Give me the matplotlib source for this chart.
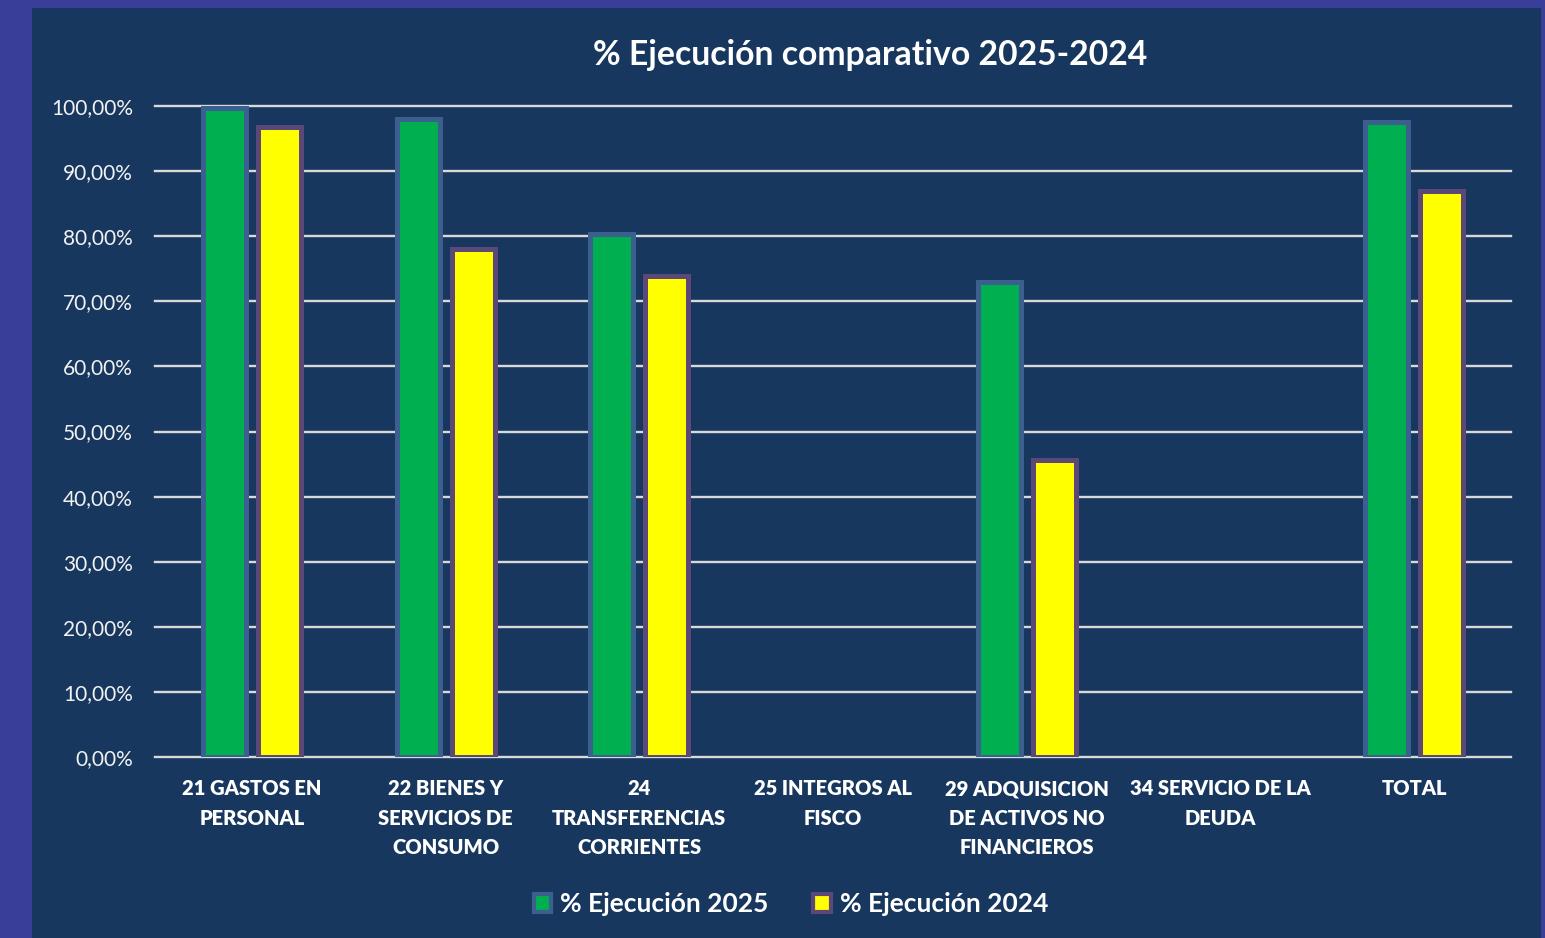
import matplotlib
matplotlib.use('Agg')
import matplotlib.pyplot as plt
import matplotlib.patches as patches
from matplotlib.ticker import FuncFormatter
import numpy as np

plt.rcParams['font.family'] = ['Lato', 'DejaVu Sans']

# ==================== 数据 ====================
categories = ['21 GASTOS EN\nPERSONAL', '22 BIENES Y\nSERVICIOS DE\nCONSUMO',
              '24\nTRANSFERENCIAS\nCORRIENTES', '25 INTEGROS AL\nFISCO',
              '29 ADQUISICION\nDE ACTIVOS NO\nFINANCIEROS', '34 SERVICIO DE LA\nDEUDA',
              'TOTAL']
ejec_2025 = [99.7, 98.0, 80.4, 0.0, 73.0, 0.0, 97.5]
ejec_2024 = [96.8, 78.1, 73.9, 0.0, 45.6, 0.0, 87.0]
series_names = ['% Ejecución 2025', '% Ejecución 2024']
title = '% Ejecución comparativo 2025-2024'

# ==================== 样式 ====================
outer_bg = '#393E99'
inner_bg = '#17375E'
green, green_edge = '#00B050', '#3B5F8E'
yellow, yellow_edge = '#FFFF00', '#5B4878'
grid_col = '#D9D9D9'
text_col = '#F2F2F2'

W, H = 1545, 938
fig = plt.figure(figsize=(W / 100, H / 100), dpi=100, facecolor=outer_bg)
fig.patches.append(patches.Rectangle((32 / W, 0), (1541 - 32) / W, 1 - 8 / H,
                                     transform=fig.transFigure, facecolor=inner_bg,
                                     edgecolor='none', zorder=-10))

ax = fig.add_axes([155 / W, 1 - 757 / H, (1511 - 155) / W, (757 - 106) / H])
ax.set_facecolor('none')

x = np.arange(len(categories))
bw = 0.222
off = 0.142
b1 = ax.bar(x - off, ejec_2025, bw, color=green, edgecolor=green_edge, linewidth=3.6,
            zorder=3, label=series_names[0])
b2 = ax.bar(x + off, ejec_2024, bw, color=yellow, edgecolor=yellow_edge, linewidth=3.6,
            zorder=3, label=series_names[1])
for bars, vals in ((b1, ejec_2025), (b2, ejec_2024)):
    for r, v in zip(bars, vals):
        if v == 0:
            r.set_visible(False)

ax.set_xlim(-0.5, len(categories) - 0.5)
ax.set_ylim(0, 100)
ax.set_yticks(np.arange(0, 101, 10))
ax.yaxis.set_major_formatter(FuncFormatter(lambda v, p: f'{v:.2f}'.replace('.', ',') + '%'))
ax.grid(axis='y', color=grid_col, linewidth=1.7, zorder=1)
for gl in ax.get_ygridlines():
    gl.set_clip_on(False)
ax.set_axisbelow(True)
for s in ax.spines.values():
    s.set_visible(False)

ax.set_xticks(x)
ax.set_xticklabels(categories, fontsize=14.5, fontweight='heavy', color='white',
                   linespacing=1.65)
ax.tick_params(axis='x', length=0, pad=16)
ax.tick_params(axis='y', length=0, pad=16, labelsize=15, labelcolor=text_col)

fig.text(870 / W, 1 - 55 / H, title, ha='center', va='center', fontsize=24.3,
         fontweight='bold', color='white')

handles = [patches.Patch(facecolor=green, edgecolor=green_edge, linewidth=3),
           patches.Patch(facecolor=yellow, edgecolor=yellow_edge, linewidth=3)]
leg = fig.legend(handles, series_names, loc='center', bbox_to_anchor=(791 / W, 1 - 904 / H),
                 ncol=2, frameon=False, handlelength=0.65, handleheight=0.65,
                 handletextpad=0.35, columnspacing=1.7,
                 prop={'family': ['Lato', 'DejaVu Sans'], 'size': 19, 'weight': 'bold'})
for t in leg.get_texts():
    t.set_color('white')

plt.savefig('out.png', dpi=100, facecolor=outer_bg)
